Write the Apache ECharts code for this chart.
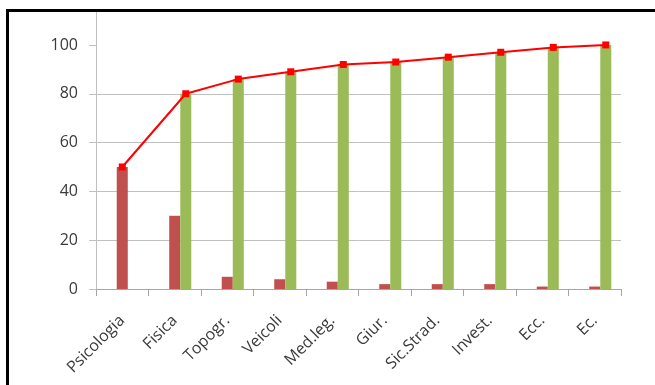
<!DOCTYPE html>
<html>
<head>
<meta charset="utf-8">
<script src="https://cdn.jsdelivr.net/npm/echarts@6/dist/echarts.min.js"></script>
<style>html,body{margin:0;padding:0;background:#fff;overflow:hidden}#c{width:655px;height:385px}</style>
</head>
<body>
<div id="c"></div>
<script>
const categories = ['Psicologia','Fisica','Topogr.','Veicoli','Med.leg.','Giur.','Sic.Strad.','Invest.','Ecc.','Ec.'];
const redValues = [50, 30, 5, 4, 3, 2, 2, 2, 1, 1];
const greenValues = [null, 80, 86, 89, 92, 93, 95, 97, 99, 100];
const lineValues = [50, 80, 86, 89, 92, 93, 95, 97, 99, 100];
const yTicks = [0, 20, 40, 60, 80, 100];

const barRatio = 0.21; // bar width as fraction of category band
const chart = echarts.init(document.getElementById('c'), null, {renderer: 'canvas'});
const font = '"Open Sans", "Liberation Sans", sans-serif';
const lineData = lineValues.map((v, i) => [i + 0.5 + (greenValues[i] != null ? barRatio : 0), v]);

chart.setOption({
  animation: false,
  backgroundColor: '#ffffff',
  grid: {left: 96, right: 34, top: 12, bottom: 96, containLabel: false},
  graphic: [{
    type: 'polyline', z: 100,
    shape: {points: [[7.5, 400], [7.5, 10.5], [700, 10.5]]},
    style: {fill: null, stroke: '#000', lineWidth: 3}
  }],
  xAxis: [{
    type: 'category', data: categories,
    axisLine: {lineStyle: {color: '#a6a6a6', width: 1}},
    axisTick: {show: true, length: 7, lineStyle: {color: '#a6a6a6'}},
    axisLabel: {rotate: 45, margin: 29, fontSize: 16, color: '#3a3a3a', fontFamily: font, interval: 0}
  }, {
    type: 'value', min: 0, max: categories.length, show: false
  }],
  yAxis: {
    type: 'value', min: 0, max: 113.5, interval: 20,
    axisLine: {show: true, lineStyle: {color: '#c0c0c0'}},
    axisTick: {show: true, length: 7, customValues: yTicks, lineStyle: {color: '#c0c0c0'}},
    axisLabel: {customValues: yTicks, margin: 18, fontSize: 16, color: '#3a3a3a', fontFamily: font},
    splitLine: {show: true, showMaxLine: false, lineStyle: {color: '#c0c0c0', width: 1}}
  },
  series: [
    {type: 'bar', name: 'spacer', data: [], barWidth: (barRatio * 100) + '%', barGap: '0%'},
    {type: 'bar', name: 'red', data: redValues, barWidth: (barRatio * 100) + '%', barGap: '0%', itemStyle: {color: '#c0504d'}},
    {type: 'bar', name: 'green', data: greenValues, barWidth: (barRatio * 100) + '%', barGap: '0%', itemStyle: {color: '#9bbb59'}},
    {type: 'line', name: 'cum', xAxisIndex: 1, data: lineData, symbol: 'rect', symbolSize: 7,
      lineStyle: {color: '#ff0000', width: 2}, itemStyle: {color: '#ff0000'}, z: 5}
  ]
});
</script>
</body>
</html>
